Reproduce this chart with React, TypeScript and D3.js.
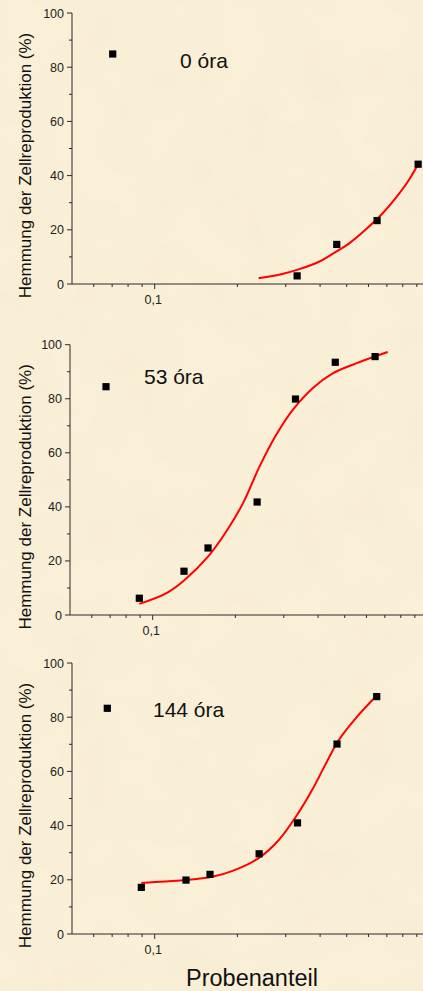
import React, { useEffect, useRef } from "react";
import * as d3 from "d3";

// measured points (Probenanteil, Hemmung %)
const x0h = [0.33, 0.46, 0.645, 0.91];
const y0h = [3, 14.6, 23.4, 44.2];
const fitX0h = [0.239, 0.291, 0.334, 0.396, 0.442, 0.509, 0.585, 0.673, 0.752, 0.841, 0.909];
const fitY0h = [2.1, 3.7, 5.4, 8.2, 11.0, 14.9, 20.0, 25.9, 31.6, 38.3, 44.2];

const x53h = [0.0894, 0.13, 0.159, 0.24, 0.331, 0.462, 0.645];
const y53h = [6.2, 16.2, 24.8, 41.8, 79.9, 93.5, 95.6];
const fitX53h = [0.0894, 0.1118, 0.1297, 0.159, 0.185, 0.213, 0.245, 0.281, 0.323, 0.383, 0.452, 0.55, 0.717];
const fitY53h = [4.1, 8.0, 12.7, 21.6, 30.8, 41.3, 55.0, 66.5, 75.8, 84.0, 89.4, 93.1, 97.3];

const x144h = [0.0894, 0.13, 0.159, 0.24, 0.331, 0.461, 0.643];
const y144h = [17.2, 19.9, 22.0, 29.6, 41.0, 70.1, 87.6];
const fitX144h = [0.0894, 0.1094, 0.13, 0.162, 0.191, 0.239, 0.283, 0.334, 0.374, 0.418, 0.468, 0.538, 0.643];
const fitY144h = [18.8, 19.4, 19.9, 21.1, 23.2, 28.0, 34.7, 44.8, 53.1, 62.5, 71.6, 79.5, 88.0];

const yMajor = [0, 20, 40, 60, 80, 100];
const yMinor = [10, 30, 50, 70, 90];
const xMajor = [0.1, 1];
const xLabeled = [0.1];
const xMinor = [0.06, 0.07, 0.08, 0.09, 0.2, 0.3, 0.4, 0.5, 0.6, 0.7, 0.8, 0.9];

const labels = ["0 óra", "53 óra", "144 óra"];

const panels = [
  { label: labels[0], xs: x0h, ys: y0h, fx: fitX0h, fy: fitY0h, left: 72, top: 13, bottom: 284, legX: 112.7, legY: 54, textX: 180, textY: 68 },
  { label: labels[1], xs: x53h, ys: y53h, fx: fitX53h, fy: fitY53h, left: 70, top: 344.7, bottom: 615, legX: 106, legY: 386.7, textX: 144, textY: 384 },
  { label: labels[2], xs: x144h, ys: y144h, fx: fitX144h, fy: fitY144h, left: 72, top: 663, bottom: 934, legX: 107.3, legY: 708.3, textX: 153, textY: 716.5 },
];

const W = 423;
const H = 991;
const FONT = "'Liberation Sans', Arial, sans-serif";

export default function App() {
  const svgRef = useRef<SVGSVGElement>(null);

  useEffect(() => {
    const svg = d3.select(svgRef.current);
    svg.selectAll("*").remove();

    const defs = svg.append("defs");
    const f = defs.append("filter").attr("id", "paper").attr("x", 0).attr("y", 0).attr("width", "100%").attr("height", "100%");
    f.append("feTurbulence").attr("type", "fractalNoise").attr("baseFrequency", 0.018).attr("numOctaves", 3).attr("seed", 4);
    f.append("feColorMatrix").attr("values", "0 0 0 0 0.8  0 0 0 0 0.7  0 0 0 0 0.45  0 0 0 0.16 -0.04");

    svg.append("rect").attr("width", W).attr("height", H).attr("fill", "#faf0d8");
    svg.append("rect").attr("width", W).attr("height", H).attr("filter", "url(#paper)");

    panels.forEach((p) => {
      const g = svg.append("g");
      const x = d3.scaleLog().domain([0.05, 1]).range([p.left, p.left + 357.4]);
      const y = d3.scaleLinear().domain([0, 100]).range([p.bottom, p.top]);

      // axes
      g.append("line").attr("x1", p.left).attr("x2", p.left).attr("y1", p.top).attr("y2", p.bottom).attr("stroke", "#2a2a2a");
      g.append("line").attr("x1", p.left).attr("x2", x(1)).attr("y1", p.bottom).attr("y2", p.bottom).attr("stroke", "#2a2a2a");

      g.selectAll(".ymaj").data(yMajor).join("line")
        .attr("x1", p.left - 5).attr("x2", p.left)
        .attr("y1", (d) => y(d)).attr("y2", (d) => y(d)).attr("stroke", "#2a2a2a");
      g.selectAll(".ymin").data(yMinor).join("line")
        .attr("x1", p.left - 3).attr("x2", p.left)
        .attr("y1", (d) => y(d)).attr("y2", (d) => y(d)).attr("stroke", "#2a2a2a");
      g.selectAll(".ylab").data(yMajor).join("text")
        .attr("x", p.left - 8).attr("y", (d) => y(d) + 4.5)
        .attr("text-anchor", "end").attr("font-size", 12.5).attr("font-family", FONT).attr("fill", "#222")
        .text((d) => d);

      g.selectAll(".xmaj").data(xMajor).join("line")
        .attr("x1", (d) => x(d)).attr("x2", (d) => x(d))
        .attr("y1", p.bottom).attr("y2", p.bottom + 5).attr("stroke", "#2a2a2a");
      g.selectAll(".xmin").data(xMinor).join("line")
        .attr("x1", (d) => x(d)).attr("x2", (d) => x(d))
        .attr("y1", p.bottom).attr("y2", p.bottom + 3).attr("stroke", "#2a2a2a");
      g.selectAll(".xlab").data(xLabeled).join("text")
        .attr("x", (d) => x(d) - 1.5).attr("y", p.bottom + 20)
        .attr("text-anchor", "middle").attr("font-size", 12.5).attr("font-family", FONT).attr("fill", "#222")
        .text((d) => d3.format(".1f")(d).replace(".", ","));

      const cy = (p.top + p.bottom) / 2 + 17;
      g.append("text")
        .attr("transform", `translate(31,${cy}) rotate(-90)`)
        .attr("text-anchor", "middle").attr("font-size", 17).attr("font-family", FONT).attr("fill", "#111")
        .text("Hemmung der Zellreproduktion (%)");

      // fit curve
      const line = d3.line<number>()
        .x((d, i) => x(p.fx[i]))
        .y((d) => y(d))
        .curve(d3.curveCatmullRom.alpha(0.5));
      g.append("path").attr("d", line(p.fy)).attr("fill", "none").attr("stroke", "#ff0000").attr("stroke-width", 2);

      // points
      g.selectAll(".pt").data(p.ys).join("rect")
        .attr("x", (d, i) => x(p.xs[i]) - 3.6).attr("y", (d) => y(d) - 3.6)
        .attr("width", 7.2).attr("height", 7.2).attr("fill", "#000");

      // legend
      g.append("rect").attr("x", p.legX - 3.6).attr("y", p.legY - 3.6).attr("width", 7.2).attr("height", 7.2).attr("fill", "#000");
      g.append("text").attr("x", p.textX).attr("y", p.textY)
        .attr("font-size", 21).attr("font-family", FONT).attr("fill", "#111").text(p.label);
    });

    svg.append("text").attr("x", 252).attr("y", 986)
      .attr("text-anchor", "middle").attr("font-size", 23.5).attr("font-family", FONT).attr("fill", "#111")
      .text("Probenanteil");
  }, []);

  return (
    <svg ref={svgRef} width={W} height={H} style={{ position: "absolute", left: 0, top: 0, display: "block" }} />
  );
}
